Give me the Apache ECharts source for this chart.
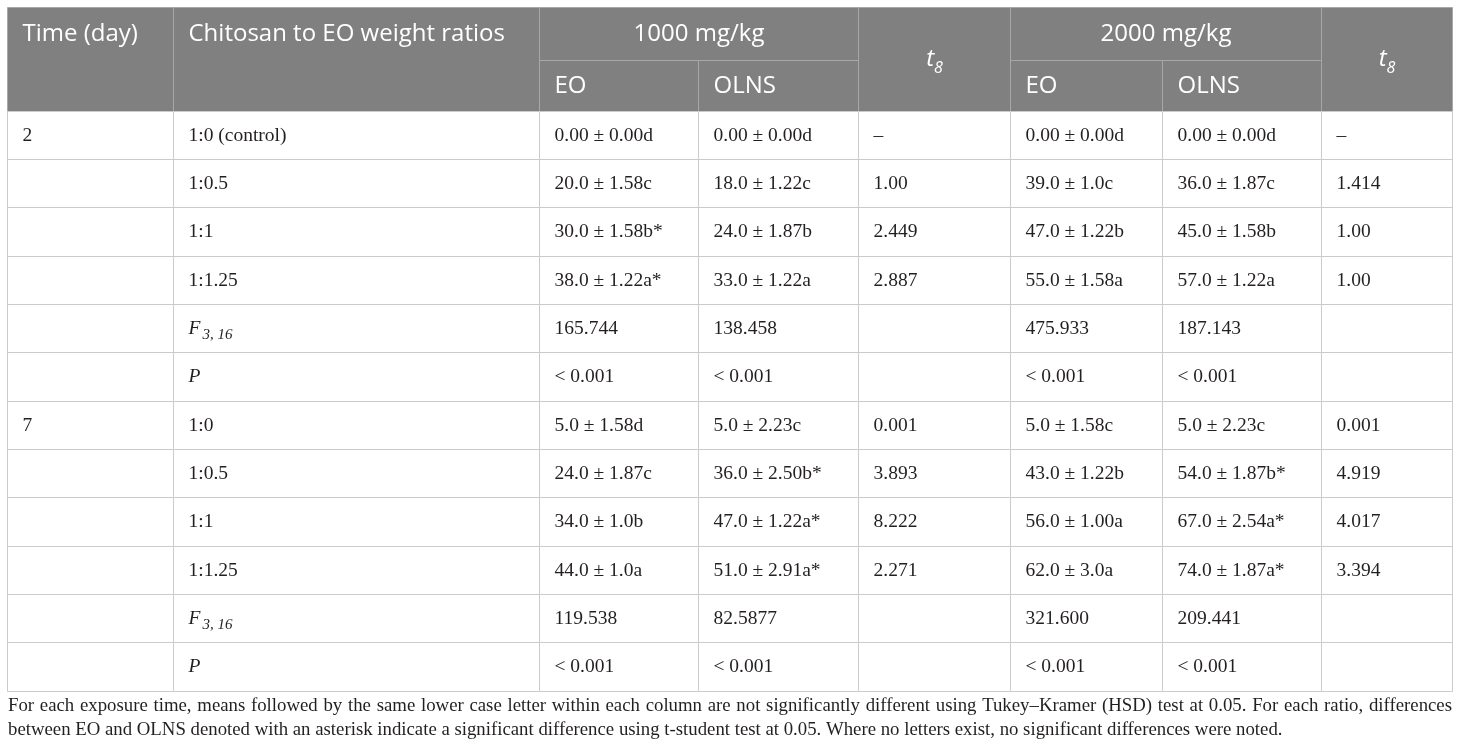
<!DOCTYPE html>
<html>
<head>
<meta charset="utf-8">
<script src="https://cdn.jsdelivr.net/npm/echarts@6/dist/echarts.min.js"></script>
<style>
  html, body { margin: 0; padding: 0; background: #fff; }
  #chart { width: 1460px; height: 753px; }
</style>
</head>
<body>
<div id="chart"></div>
<script>
// ---- table data ----
const headTop = ['Time (day)', 'Chitosan to EO weight ratios', '1000 mg/kg', 't8', '2000 mg/kg', 't8'];
const headSub = ['EO', 'OLNS', 'EO', 'OLNS'];
const timeDays = ['2', '', '', '', '', '', '7', '', '', '', '', ''];
const ratios = ['1:0 (control)', '1:0.5', '1:1', '1:1.25', 'F', 'P', '1:0', '1:0.5', '1:1', '1:1.25', 'F', 'P'];
const eo1000 = ['0.00 ± 0.00d', '20.0 ± 1.58c', '30.0 ± 1.58b*', '38.0 ± 1.22a*', '165.744', '< 0.001',
                '5.0 ± 1.58d', '24.0 ± 1.87c', '34.0 ± 1.0b', '44.0 ± 1.0a', '119.538', '< 0.001'];
const olns1000 = ['0.00 ± 0.00d', '18.0 ± 1.22c', '24.0 ± 1.87b', '33.0 ± 1.22a', '138.458', '< 0.001',
                  '5.0 ± 2.23c', '36.0 ± 2.50b*', '47.0 ± 1.22a*', '51.0 ± 2.91a*', '82.5877', '< 0.001'];
const t1000 = ['–', '1.00', '2.449', '2.887', '', '', '0.001', '3.893', '8.222', '2.271', '', ''];
const eo2000 = ['0.00 ± 0.00d', '39.0 ± 1.0c', '47.0 ± 1.22b', '55.0 ± 1.58a', '475.933', '< 0.001',
                '5.0 ± 1.58c', '43.0 ± 1.22b', '56.0 ± 1.00a', '62.0 ± 3.0a', '321.600', '< 0.001'];
const olns2000 = ['0.00 ± 0.00d', '36.0 ± 1.87c', '45.0 ± 1.58b', '57.0 ± 1.22a', '187.143', '< 0.001',
                  '5.0 ± 2.23c', '54.0 ± 1.87b*', '67.0 ± 2.54a*', '74.0 ± 1.87a*', '209.441', '< 0.001'];
const t2000 = ['–', '1.414', '1.00', '1.00', '', '', '0.001', '4.919', '4.017', '3.394', '', ''];
const footnote = [
  'For each exposure time, means followed by the same lower case letter within each column are not significantly different using Tukey–Kramer (HSD) test at 0.05. For each ratio, differences',
  'between EO and OLNS denoted with an asterisk indicate a significant difference using t-student test at 0.05. Where no letters exist, no significant differences were noted.'
];

// ---- layout (axis units = page pixels) ----
const colEdges = [7.5, 173.5, 539.5, 698.5, 858.5, 1010.5, 1162.5, 1321.5, 1452.5];
const rowEdges = [7.5, 60.5, 111.5, 159.5, 207.5, 256.5, 304.5, 352.5, 401.5, 449.5, 497.5, 546.5, 594.5, 642.5, 691.5];
const SANS = '"Open Sans", "Noto Sans", sans-serif';
const SERIF = '"Liberation Serif", "DejaVu Serif", serif';
const INK = '#231f20';
const NOTE_SIZE = 18.8;

// build cells: [c0, c1, r0, r1] + how to write them
const cells = [];
function addCell(c0, c1, r0, r1, text, opt) {
  cells.push(Object.assign({ c0, c1, r0, r1, text }, opt || {}));
}
addCell(0, 1, 0, 2, headTop[0], { head: true, topText: true });
addCell(1, 2, 0, 2, headTop[1], { head: true, topText: true });
addCell(2, 4, 0, 1, headTop[2], { head: true, center: true });
addCell(4, 5, 0, 2, headTop[3], { head: true, center: true, sub: true });
addCell(5, 7, 0, 1, headTop[4], { head: true, center: true });
addCell(7, 8, 0, 2, headTop[5], { head: true, center: true, sub: true });
[2, 3, 5, 6].forEach((c, i) => addCell(c, c + 1, 1, 2, headSub[i], { head: true }));

const bodyCols = [timeDays, ratios, eo1000, olns1000, t1000, eo2000, olns2000, t2000];
for (let r = 0; r < ratios.length; r++) {
  bodyCols.forEach((col, c) => {
    addCell(c, c + 1, r + 2, r + 3, col[r], { stat: c === 1 && (col[r] === 'F' || col[r] === 'P') });
  });
}

const cellData = cells.map(d => [colEdges[d.c0], colEdges[d.c1], rowEdges[d.r0], rowEdges[d.r1]]);

function cellText(d, x, y) {
  if (d.head) {
    if (d.sub) {
      return {
        text: '{i|t}{s|8}', x, y, align: 'center', verticalAlign: 'middle',
        rich: {
          i: { fontFamily: SANS, fontSize: 24, fontStyle: 'italic', fill: '#fff', lineHeight: 26, verticalAlign: 'middle' },
          s: { fontFamily: SANS, fontSize: 16, fontStyle: 'italic', fill: '#fff', lineHeight: 16, verticalAlign: 'bottom', padding: [0, 0, -4, 0] }
        }
      };
    }
    return { text: d.text, x, y, align: d.center ? 'center' : 'left', verticalAlign: 'middle',
             fontFamily: SANS, fontSize: 24, fill: '#fff' };
  }
  if (d.stat) {
    if (d.text === 'F') {
      return {
        text: '{i|F}{s|3, 16}', x, y, align: 'left', verticalAlign: 'middle',
        rich: {
          i: { fontFamily: SERIF, fontSize: 19.5, fontStyle: 'italic', fill: INK, lineHeight: 24, verticalAlign: 'middle' },
          s: { fontFamily: SERIF, fontSize: 15, fontStyle: 'italic', fill: INK, lineHeight: 15, verticalAlign: 'bottom', padding: [0, 0, -2, 2] }
        }
      };
    }
    return { text: d.text, x, y, align: 'left', verticalAlign: 'middle',
             fontFamily: SERIF, fontSize: 19.5, fontStyle: 'italic', fill: INK };
  }
  return { text: d.text, x, y, align: 'left', verticalAlign: 'middle',
           fontFamily: SERIF, fontSize: 19.5, fill: INK };
}

function renderCell(params, api) {
  const d = cells[params.dataIndex];
  const p0 = api.coord([api.value(0), api.value(2)]);
  const p1 = api.coord([api.value(1), api.value(3)]);
  const w = p1[0] - p0[0];
  const h = p1[1] - p0[1];
  let tx = d.center ? p0[0] + w / 2 : p0[0] + 15;
  let ty = p0[1] + h / 2;
  if (d.topText) {
    // spans both header rows, text sits on the first one
    ty = api.coord([0, (rowEdges[0] + rowEdges[1]) / 2])[1];
  }
  return {
    type: 'group',
    children: [
      {
        type: 'rect',
        shape: { x: p0[0], y: p0[1], width: w, height: h },
        style: { fill: d.head ? '#808080' : '#fff', stroke: d.head ? '#a8a8a8' : '#cbcbcb', lineWidth: 1 }
      },
      { type: 'text', z2: 10, style: cellText(d, tx, ty) }
    ]
  };
}

// footnote: first line is justified to the table width, second is left aligned
function measure(text) {
  const t = new echarts.graphic.Text({ style: { text, fontFamily: SERIF, fontSize: NOTE_SIZE } });
  return t.getBoundingRect().width;
}
const noteLeft = 8, noteRight = 1452;
const noteGraphics = [];
{
  const words = footnote[0].split(' ');
  const widths = words.map(measure);
  const total = widths.reduce((a, b) => a + b, 0);
  const gap = (noteRight - noteLeft - total) / (words.length - 1);
  let x = noteLeft;
  words.forEach((w, i) => {
    noteGraphics.push({ type: 'text', x, y: 706, style: { text: w, fontFamily: SERIF, fontSize: NOTE_SIZE, fill: INK, verticalAlign: 'middle' } });
    x += widths[i] + gap;
  });
  noteGraphics.push({ type: 'text', x: noteLeft, y: 730, style: { text: footnote[1], fontFamily: SERIF, fontSize: NOTE_SIZE, fill: INK, verticalAlign: 'middle' } });
}

const chart = echarts.init(document.getElementById('chart'));
chart.setOption({
  animation: false,
  backgroundColor: '#fff',
  grid: { left: 0, right: 0, top: 0, bottom: 0 },
  xAxis: { type: 'value', min: 0, max: 1460, show: false },
  yAxis: { type: 'value', min: 0, max: 753, inverse: true, show: false },
  series: [{
    type: 'custom',
    renderItem: renderCell,
    encode: { x: [0, 1], y: [2, 3] },
    data: cellData,
    silent: true
  }],
  graphic: noteGraphics
});
</script>
</body>
</html>
